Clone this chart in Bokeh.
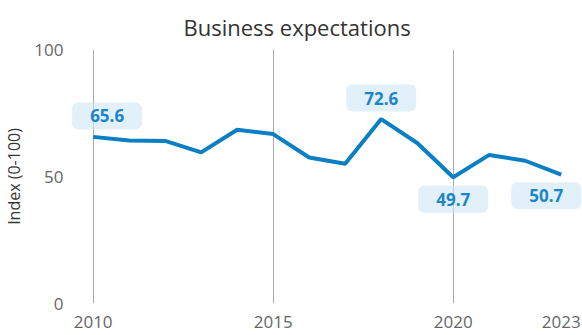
from bokeh.plotting import figure
from bokeh.models import ColumnDataSource, FixedTicker, Range1d
from bokeh.core.properties import value
from bokeh.embed import file_html
from bokeh.resources import INLINE

# ---- data ----
years = list(range(2010, 2024))
values = [65.6, 64.2, 64.0, 59.5, 68.4, 66.7, 57.5, 55.0, 72.6, 63.2, 49.7, 58.5, 56.2, 50.7]
label_years = [2010, 2018, 2020, 2023]
label_values = [65.6, 72.6, 49.7, 50.7]
x_ticks = [2010, 2015, 2020, 2023]
grid_ticks = [2010, 2015, 2020]
title_text = "Business expectations"
y_title = "Index (0-100)"

# ---- styling (pixel offsets of the value labels) ----
lab_dx = [14, 0, 0, -15]
lab_dy = [-21, -21, 22, 21]

FONT = "Open Sans"

p = figure(width=582, height=335, output_backend="svg", toolbar_location=None,
           x_range=Range1d(2009.399, 2023.591), y_range=Range1d(0, 100),
           min_border_left=70, min_border_right=0, min_border_top=49, min_border_bottom=32,
           title=title_text)
p.outline_line_color = None
p.background_fill_color = "white"
p.border_fill_color = "white"

p.title.align = "left"
p.title.offset = 112
p.title.text_font = FONT
p.title.text_font_size = "22px"
p.title.text_font_style = "normal"
p.title.text_color = "#333333"
p.title.text_line_height = 0.6
p.title.standoff = 16

# axes
p.xaxis.ticker = FixedTicker(ticks=x_ticks)
p.xaxis.axis_line_color = None
p.xaxis.major_tick_line_color = None
p.xaxis.minor_tick_line_color = None
p.xaxis.major_tick_out = 0
p.xaxis.major_tick_in = 0
p.xaxis.minor_tick_out = 0
p.xaxis.major_label_text_font = FONT
p.xaxis.major_label_text_font_size = "17px"
p.xaxis.major_label_text_color = "#666666"
p.xaxis.major_label_standoff = 12

p.yaxis.ticker = FixedTicker(ticks=[0, 50, 100])
p.yaxis.axis_line_color = None
p.yaxis.major_tick_line_color = None
p.yaxis.minor_tick_line_color = None
p.yaxis.major_tick_out = 0
p.yaxis.major_tick_in = 0
p.yaxis.minor_tick_out = 0
p.yaxis.major_label_text_font = FONT
p.yaxis.major_label_text_font_size = "17px"
p.yaxis.major_label_text_color = "#666666"
p.yaxis.major_label_standoff = 8
p.yaxis.axis_label = y_title
p.yaxis.axis_label_text_font = FONT
p.yaxis.axis_label_text_font_size = "16px"
p.yaxis.axis_label_text_font_style = "normal"
p.yaxis.axis_label_text_color = "#333333"
p.yaxis.axis_label_standoff = 6

# grid
p.xgrid.ticker = FixedTicker(ticks=grid_ticks)
p.xgrid.grid_line_color = "#aaaaaa"
p.xgrid.grid_line_width = 1
p.ygrid.grid_line_color = None

# line
src = ColumnDataSource(dict(x=years, y=values))
p.line("x", "y", source=src, line_color="#0b7fc3", line_width=4)

# value labels
lsrc = ColumnDataSource(dict(x=label_years, y=label_values,
                             t=[f"{v:.1f}" for v in label_values],
                             dx=lab_dx, dy=lab_dy))
p.text("x", "y", text="t", source=lsrc, x_offset="dx", y_offset="dy",
       text_align="center", text_baseline="middle",
       text_font=value(FONT), text_font_size="17px", text_font_style="bold",
       text_color="#1a86c8",
       background_fill_color="#cfe6f6", background_fill_alpha=0.6,
       padding=(18, 7), border_radius=6)

open("out.html", "w").write(file_html(p, INLINE))
